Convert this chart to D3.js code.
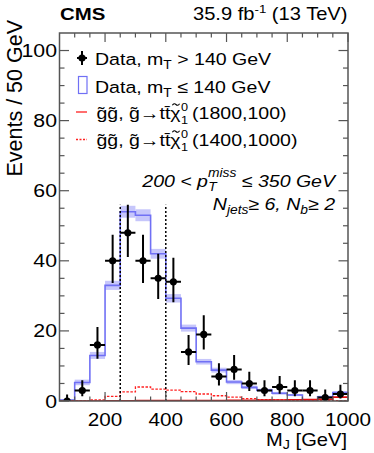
<!DOCTYPE html>
<html><head><meta charset="utf-8">
<script src="https://cdn.jsdelivr.net/npm/d3@7"></script>
<style>
html,body{margin:0;padding:0;background:#fff;}
svg{display:block;font-family:"Liberation Sans",Arial,Helvetica,sans-serif;}
</style></head>
<body>
<svg id="c" width="374" height="453"></svg>
<script>
// ---- data ----
const binLow = [50,100,150,200,250,300,350,400,450,500,550,600,650,700,750,800,850,900,950];
const binWidth = 50;
const dataHigh = [0,3,16,40,48,40,35,34,14,19,7,9,5,3,4,3,3,1,2];
const dataErrLo = [0,1.63,3.97,6.3,6.9,6.3,5.9,5.8,3.7,4.3,2.58,2.94,2.16,1.63,1.91,1.63,1.63,0.83,1.29];
const dataErrHi = [1.84,2.92,5.1,7.4,8.0,7.4,7.0,6.9,4.83,5.5,3.77,4.11,3.38,2.92,3.16,2.92,2.92,2.30,2.64];
const dataLow = [0.3,5.3,13,33,54,53,42,29.3,20.8,11.2,8.8,5.4,3.9,3.1,2.2,1.7,0.3,1.2,2.4];
const dataLowErr = [0.2,0.8,1.0,1.3,1.7,1.7,1.4,1.2,1.0,0.8,0.7,0.6,0.5,0.4,0.4,0.3,0.2,0.3,0.4];
const sig1800 = [0,0,0,0.05,0.05,0.1,0.1,0.1,0.1,0.15,0.15,0.2,0.2,0.25,0.3,0.35,0.4,0.5,1.1];
const sig1400 = [0,0,0.3,1.3,2.6,4.0,3.4,3.1,2.7,2.0,1.5,1.1,0.7,0.4,0.3,0.2,0.1,0.1,0.1];
const cutLines = [250,400];
const xTicksMajor = [200,400,600,800,1000];
const yTicksMajor = [0,20,40,60,80,100];

// ---- layout ----
const L=59.5, R=348, T=33, B=401;
const SX = 1.15;
const svg = d3.select("#c");
const x = d3.scaleLinear().domain([50,1000]).range([L,R]);
const y = d3.scaleLinear().domain([0,105]).range([B,T]);

svg.append("clipPath").attr("id","clip").append("rect")
  .attr("x",L).attr("y",T).attr("width",R-L).attr("height",B-T);
const plot = svg.append("g").attr("clip-path","url(#clip)");

// band
plot.selectAll("rect.band").data(binLow).enter().append("rect")
  .attr("x",d=>x(d)).attr("width",d=>x(d+binWidth)-x(d))
  .attr("y",(d,i)=>y(dataLow[i]+dataLowErr[i]))
  .attr("height",(d,i)=>y(dataLow[i]-dataLowErr[i])-y(dataLow[i]+dataLowErr[i]))
  .attr("fill","#c6c6fb");

function stepPts(vals){
  const p = binLow.map((d,i)=>[d,vals[i]]);
  p.push([binLow[binLow.length-1]+binWidth, vals[vals.length-1]]);
  return p;
}
const line = d3.line().x(d=>x(d[0])).y(d=>y(d[1])).curve(d3.curveStepAfter);

plot.append("path").attr("d",line(stepPts(dataLow)))
  .attr("fill","none").attr("stroke","#7070f5").attr("stroke-width",1.6);
plot.append("path").attr("d",line(stepPts(sig1400)))
  .attr("fill","none").attr("stroke","#ff2020").attr("stroke-width",1.3).attr("stroke-dasharray","2.5,1.5");
plot.append("path").attr("d",line(stepPts(sig1800)))
  .attr("fill","none").attr("stroke","#e01010").attr("stroke-width",1.6);

// cut lines
cutLines.forEach(c=>{
  plot.append("line").attr("x1",x(c)).attr("x2",x(c)).attr("y1",y(0)).attr("y2",y(56))
    .attr("stroke","#000").attr("stroke-width",1.5).attr("stroke-dasharray","2,2");
});

// data points
const dg = plot.append("g");
binLow.forEach((d,i)=>{
  const cx = x(d+binWidth/2), v=dataHigh[i];
  dg.append("line").attr("x1",cx).attr("x2",cx).attr("y1",y(v-dataErrLo[i])).attr("y2",y(v+dataErrHi[i]))
    .attr("stroke","#000").attr("stroke-width",2);
  if(v>0) dg.append("line").attr("x1",x(d)).attr("x2",x(d+binWidth)).attr("y1",y(v)).attr("y2",y(v))
    .attr("stroke","#000").attr("stroke-width",2);
  dg.append("circle").attr("cx",cx).attr("cy",y(v)).attr("r",3.6).attr("fill","#000");
});

// frame & ticks
const fc = "#555";
svg.append("rect").attr("x",L).attr("y",T).attr("width",R-L).attr("height",B-T)
  .attr("fill","none").attr("stroke",fc).attr("stroke-width",1.5);
const tg = svg.append("g").attr("stroke",fc).attr("stroke-width",1.2);
d3.range(100,1000,50).concat([1000]).forEach(t=>{
  const len = xTicksMajor.includes(t)?9:4.5;
  tg.append("line").attr("x1",x(t)).attr("x2",x(t)).attr("y1",B).attr("y2",B-len);
  tg.append("line").attr("x1",x(t)).attr("x2",x(t)).attr("y1",T).attr("y2",T+len);
});
d3.range(0,105,5).forEach(t=>{
  const len = yTicksMajor.includes(t)?9.5:5;
  tg.append("line").attr("x1",L).attr("x2",L+len).attr("y1",y(t)).attr("y2",y(t));
  tg.append("line").attr("x1",R).attr("x2",R-len).attr("y1",y(t)).attr("y2",y(t));
});

// text helper
function txt(xp,yp,size,anchor,opts={}){
  const g = svg.append("g").attr("transform",`translate(${xp},${yp}) scale(${opts.sx||SX},1)`);
  return g.append("text").attr("font-size",size).attr("text-anchor",anchor)
    .attr("font-weight",opts.bold?"bold":null).attr("font-style",opts.italic?"italic":null).attr("fill","#000");
}

// tick labels
xTicksMajor.forEach(t=>{ txt(x(t),425.5,18,"middle").text(t); });
yTicksMajor.forEach(t=>{ txt(57,y(t)+6.5,18.5,"end").text(t); });

// axis titles
svg.append("text").attr("transform","translate(22,20) rotate(-90)")
  .attr("font-size",21.5).attr("text-anchor","end").text("Events / 50 GeV");
const xt = txt(347,445.5,17.5,"end");
xt.append("tspan").text("M");
xt.append("tspan").attr("font-size",12.5).attr("dy",3.5).text("J");
xt.append("tspan").attr("dy",-3.5).text(" [GeV]");

// header
txt(60,20,17,"start",{bold:true,sx:1.2}).text("CMS");
const hr = txt(347.5,20,17.5,"end");
hr.append("tspan").text("35.9 fb");
hr.append("tspan").attr("font-size",11.5).attr("dy",-7).text("-1");
hr.append("tspan").attr("dy",7).text(" (13 TeV)");

// legend
const lx = 95;
svg.append("line").attr("x1",82).attr("x2",82).attr("y1",51).attr("y2",65).attr("stroke","#000").attr("stroke-width",2);
svg.append("line").attr("x1",77).attr("x2",87).attr("y1",58).attr("y2",58).attr("stroke","#000").attr("stroke-width",2);
svg.append("circle").attr("cx",82).attr("cy",58).attr("r",3.6);
let t1 = txt(lx,65,17,"start");
t1.append("tspan").text("Data, m"); t1.append("tspan").attr("font-size",12).attr("dy",4).text("T");
t1.append("tspan").attr("dy",-4).text(" > 140 GeV");

svg.append("rect").attr("x",78.5).attr("y",76.5).attr("width",8.5).attr("height",17)
  .attr("fill","none").attr("stroke","#7070f5").attr("stroke-width",1.2);
let t2 = txt(lx,93,17,"start");
t2.append("tspan").text("Data, m"); t2.append("tspan").attr("font-size",12).attr("dy",4).text("T");
t2.append("tspan").attr("dy",-4).text(" \u2264 140 GeV");

svg.append("line").attr("x1",76).attr("x2",87).attr("y1",112).attr("y2",112).attr("stroke","#ff2020").attr("stroke-width",1.3);
svg.append("line").attr("x1",76).attr("x2",87).attr("y1",139.5).attr("y2",139.5).attr("stroke","#ff2020").attr("stroke-width",1.3).attr("stroke-dasharray","2,1.5");
function sigLabel(yp,mass){
  const pre = txt(96.5,yp,17,"start").text("g\u0303g\u0303, g\u0303\u2192tt\u0304");
  const x1 = 96.5 + pre.node().getComputedTextLength()*SX;
  const chi = txt(x1,yp,17,"start").text("\u03C7");
  const wc = chi.node().getComputedTextLength()*SX;
  const cx = x1 + wc/2 + 0.5, ty = yp - 14.5;
  svg.append("path").attr("d",`M${cx-3.6},${ty+0.8} q1.8,-2.6 3.6,-0.8 t3.6,-0.8`)
    .attr("fill","none").attr("stroke","#000").attr("stroke-width",1.1);
  const xs = x1 + wc + 0.5;
  txt(xs,yp-8.5,11,"start").text("0");
  txt(xs,yp+4.5,11,"start").text("1");
  txt(xs+11,yp,17,"start").text("(" + mass + ")");
}
sigLabel(119,"1800,100");
sigLabel(146,"1400,1000");

// annotation
const a1 = txt(335,186.5,17,"end",{italic:true});
a1.append("tspan").text("200 < p");
a1.append("tspan").attr("font-size",12).attr("dy",-9.5).text("miss");
a1.append("tspan").attr("font-size",12).attr("dx",-24.5).attr("dy",14).text("T");
a1.append("tspan").attr("dy",-4.5).attr("dx",17.2).text(" \u2264 350 GeV");
const a2 = txt(335,210,17,"end",{italic:true});
a2.append("tspan").text("N");
a2.append("tspan").attr("font-size",12).attr("dy",4).text("jets");
a2.append("tspan").attr("dy",-4).text("\u2265 6, N");
a2.append("tspan").attr("font-size",12).attr("dy",4).text("b");
a2.append("tspan").attr("dy",-4).text("\u2265 2");
</script>
</body></html>
